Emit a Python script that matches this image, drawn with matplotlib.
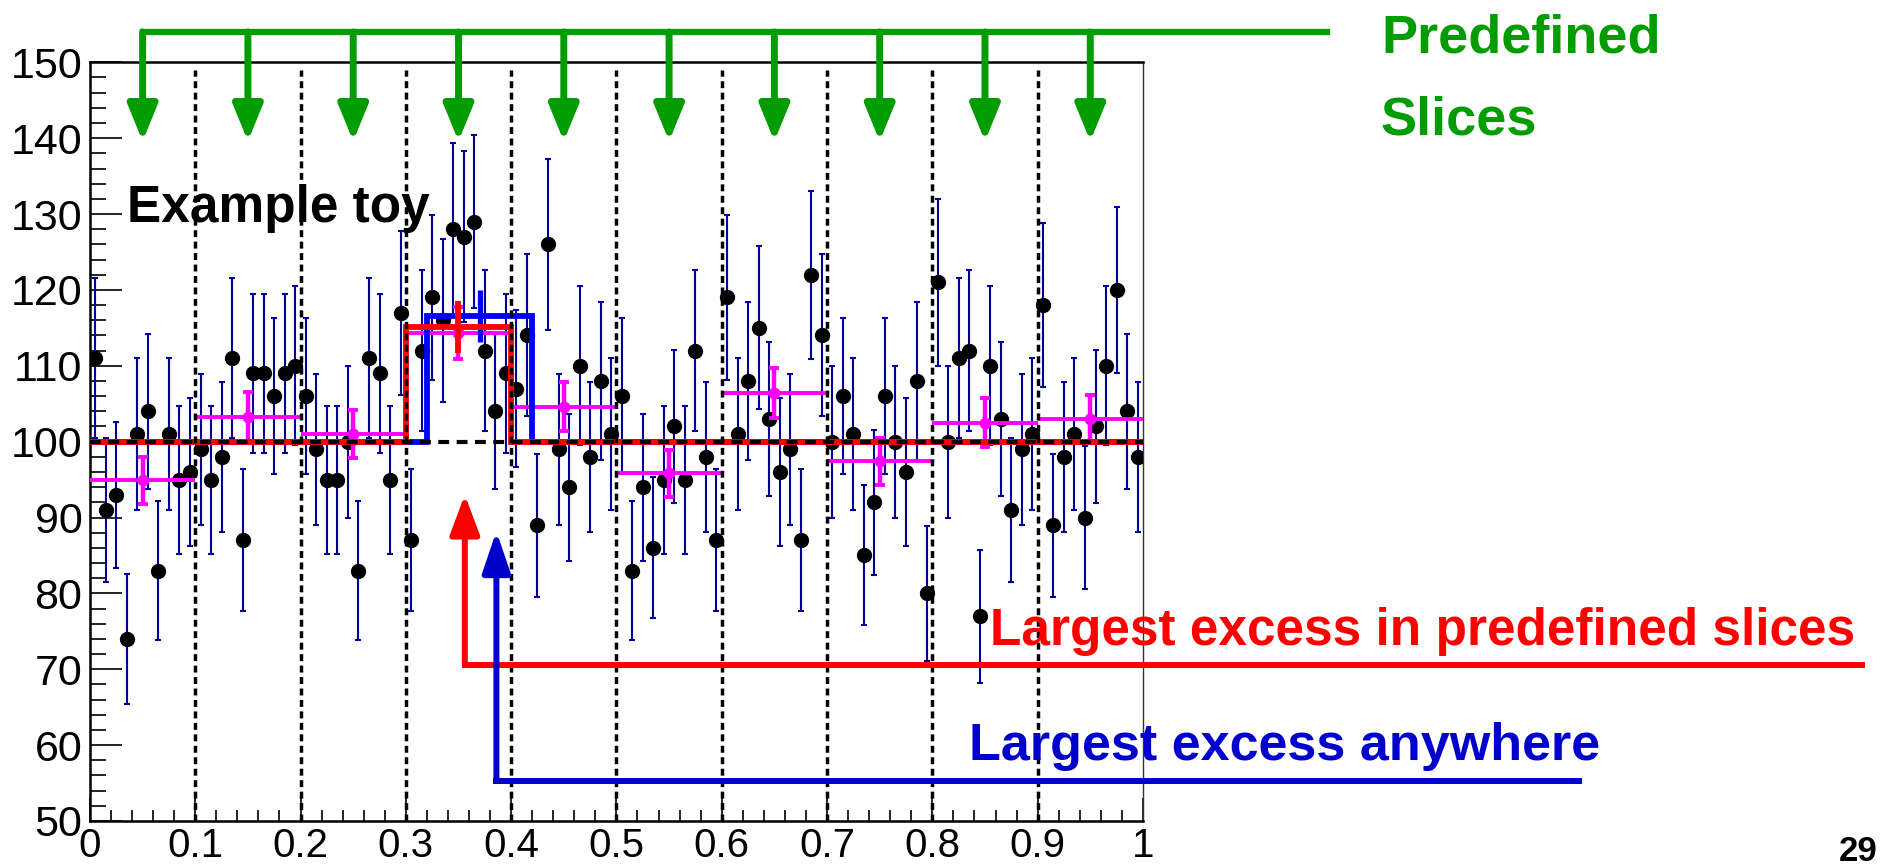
import matplotlib
matplotlib.use("Agg")
import matplotlib.pyplot as plt
import numpy as np

plt.rcParams['font.family'] = ['Liberation Sans', 'DejaVu Sans']

# toy counts in 100 bins on [0, 1]
counts = [111, 91, 93, 74, 101, 104, 83, 101, 95, 96,
          99, 95, 98, 111, 87, 109, 109, 106, 109, 110,
          106, 99, 95, 95, 100, 83, 111, 109, 95, 117,
          87, 112, 119, 116, 128, 127, 129, 112, 104, 109,
          107, 114, 89, 126, 99, 94, 110, 98, 108, 101,
          106, 83, 94, 86, 95, 102, 95, 112, 98, 87,
          119, 101, 108, 115, 103, 96, 99, 87, 122, 114,
          100, 106, 101, 85, 92, 106, 100, 96, 108, 80,
          121, 100, 111, 112, 77, 110, 103, 91, 99, 101,
          118, 89, 98, 101, 90, 102, 110, 120, 104, 98]

# mean count per predefined slice of width 0.1
slice_edges = [0.0, 0.1, 0.2, 0.3, 0.4, 0.5, 0.6, 0.7, 0.8, 0.9, 1.0]
slice_means = [94.9, 103.3, 101.0, 114.3, 104.6, 95.8, 106.4, 97.4, 102.5, 103.0]

background = 100.0

# largest excess among the predefined slices
best_slice = 3
best_slice_level = 115.1

# largest excess in a sliding window of the same width
window_edges = [0.0, 0.32, 0.42, 1.0]
window_level = 116.55

n_bins = len(counts)
counts = np.array(counts, dtype=float)
x = (np.arange(n_bins) + 0.5) / n_bins
slice_centers = 0.5 * (np.array(slice_edges[:-1]) + np.array(slice_edges[1:]))
slice_means = np.array(slice_means)

green = '#009c00'

fig = plt.figure(figsize=(18.86, 8.64), dpi=100)
ax = fig.add_axes([0.0477, 0.0498, 0.5583, 0.8781])

# data points with poisson errors
ax.errorbar(x, counts, yerr=np.sqrt(counts), fmt='o', color='black', ms=10,
            ecolor='#000099', elinewidth=1.5, capsize=2.5, capthick=1.5, zorder=2)

# slice averages
ax.errorbar(slice_centers, slice_means, xerr=0.05, fmt='none', ecolor='magenta',
            elinewidth=2.8, capsize=0, zorder=3)
ax.errorbar(slice_centers, slice_means, yerr=np.sqrt(slice_means / 10), fmt='o',
            color='magenta', ms=7.5, elinewidth=3.2, capsize=3.5, capthick=2.8, zorder=3)

# sliding window histogram
ax.stairs([background, window_level, background], window_edges, color='#0000ff',
          lw=4.2, baseline=None, zorder=4)
wc = 0.5 * (window_edges[1] + window_edges[2])
ax.errorbar([wc], [window_level], yerr=np.sqrt(window_level / 10), fmt='none',
            ecolor='#0000ff', elinewidth=3.8, capsize=0, zorder=4)

# predefined slice histogram
red_vals = [background] * len(slice_means)
red_vals[best_slice] = best_slice_level
ax.stairs(red_vals, slice_edges, color='#ff0000', lw=4.2, baseline=None, zorder=5)
ax.errorbar([slice_centers[best_slice]], [best_slice_level],
            yerr=np.sqrt(best_slice_level / 10), fmt='none', ecolor='#ff0000',
            elinewidth=4.2, capsize=0, zorder=5)

# expected level and slice boundaries
ax.plot([0, 1], [background, background], color='black', lw=3.0,
        dashes=(2.6, 1.8), zorder=6)
for xe in slice_edges[1:-1]:
    ax.plot([xe, xe], [50, 149], color='black', lw=2.5, dashes=(2.0, 1.3), zorder=6)

ax.set_xlim(0, 1)
ax.set_ylim(50, 150)
ax.set_xticks(np.arange(0, 1.01, 0.1))
ax.set_xticklabels(['0', '0.1', '0.2', '0.3', '0.4', '0.5', '0.6', '0.7', '0.8', '0.9', '1'])
ax.set_xticks(np.arange(0, 1.001, 0.02), minor=True)
ax.set_yticks(np.arange(50, 151, 10))
ax.set_yticks(np.arange(50, 151, 2), minor=True)
ax.tick_params(axis='both', which='both', direction='in', top=False, right=False,
               width=1.2)
ax.tick_params(axis='x', which='major', length=16.5, pad=4, labelsize=29)
ax.tick_params(axis='x', which='minor', length=8)
ax.tick_params(axis='y', which='major', length=22.7, pad=5.5, labelsize=31)
ax.tick_params(axis='y', which='minor', length=11.4)
for side in ['left', 'bottom', 'top']:
    ax.spines[side].set_linewidth(1.8)
ax.spines['right'].set_linewidth(1.0)
ax.spines['right'].set_color('#333333')

# green slice markers above the frame
ax.plot([slice_centers[0], 1.175], [154, 154], color=green, lw=4.5,
        solid_capstyle='projecting', clip_on=False, zorder=7)
for xc in slice_centers:
    ax.annotate('', xy=(xc, 139.6), xytext=(xc, 154),
                arrowprops=dict(arrowstyle='-|>,head_length=22,head_width=9',
                                mutation_scale=1, lw=5, color=green,
                                shrinkA=0, shrinkB=0),
                annotation_clip=False, zorder=7)

# arrows pointing at the two excesses
red_x, red_y = 0.356, 70.6
ax.plot([red_x, 1.683], [red_y, red_y], color='#ff0000', lw=4.3,
        solid_capstyle='projecting', clip_on=False, zorder=7)
ax.annotate('', xy=(red_x, 93.0), xytext=(red_x, red_y),
            arrowprops=dict(arrowstyle='-|>,head_length=24,head_width=9',
                            mutation_scale=1, lw=4.3, color='#ff0000',
                            shrinkA=0, shrinkB=0),
            annotation_clip=False, zorder=7)

blue_x, blue_y = 0.386, 55.3
ax.plot([blue_x, 1.414], [blue_y, blue_y], color='#0000cc', lw=4.3,
        solid_capstyle='projecting', clip_on=False, zorder=7)
ax.annotate('', xy=(blue_x, 88.2), xytext=(blue_x, blue_y),
            arrowprops=dict(arrowstyle='-|>,head_length=25,head_width=8.5',
                            mutation_scale=1, lw=4.3, color='#0000cc',
                            shrinkA=0, shrinkB=0),
            annotation_clip=False, zorder=7)

ax.text(0.0675, 0.7431, 'Example toy', transform=fig.transFigure, fontsize=37,
        fontweight='bold', color='black', va='baseline', zorder=1)
fig.text(0.7322, 0.9387, 'Predefined', fontsize=39, fontweight='bold',
         color=green, va='baseline')
fig.text(0.7322, 0.8438, 'Slices', fontsize=39, fontweight='bold',
         color=green, va='baseline')
fig.text(0.5249, 0.2535, 'Largest excess in predefined slices', fontsize=37,
         fontweight='bold', color='#ff0000', va='baseline')
fig.text(0.5138, 0.1204, 'Largest excess anywhere', fontsize=37.5,
         fontweight='bold', color='#0000cc', va='baseline')
fig.text(0.975, 0.004, '29', fontsize=25, fontweight='bold', color='black',
         va='baseline')

fig.savefig('out.png', dpi=100)
